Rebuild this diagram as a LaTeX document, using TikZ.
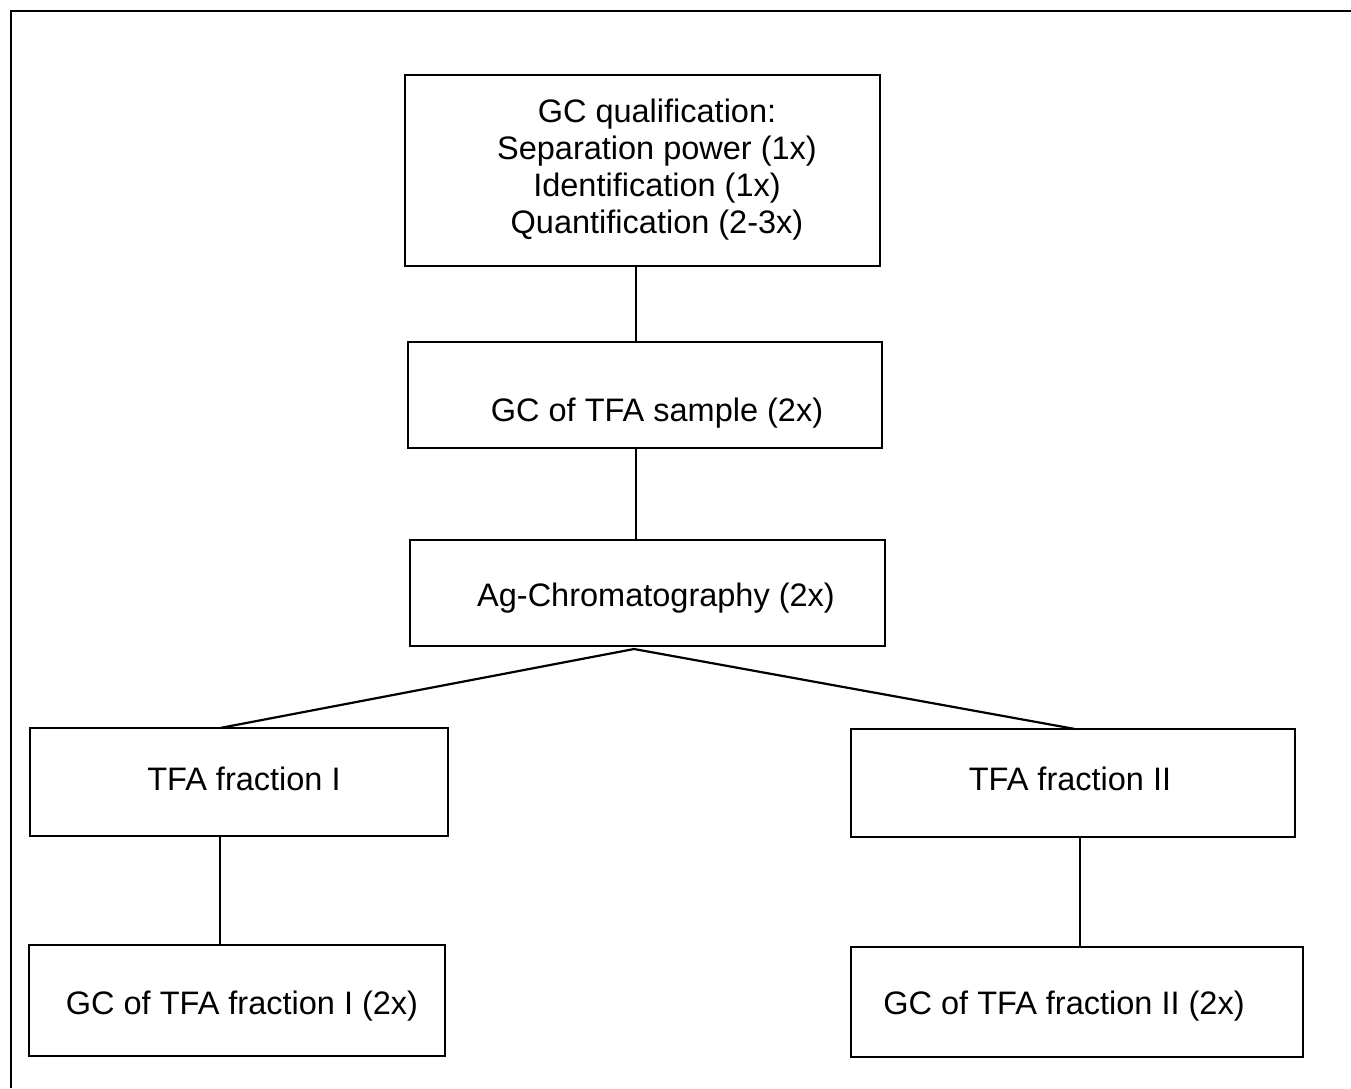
\documentclass[tikz,border=0pt]{standalone}
\usepackage{fontspec}
\setmainfont{Liberation Sans}
\begin{document}
\begin{tikzpicture}[x=1pt,y=-1pt,
  box/.style={draw=black, line width=2.5pt, inner sep=0pt, outer sep=0pt, rectangle},
  lbl/.style={inner sep=0pt, outer sep=0pt, font=\fontsize{32.5}{37}\selectfont, text=black},
  conn/.style={draw=black, line width=2.2pt}]
\useasboundingbox (0,0) rectangle (1351,1088);
% outer frame (left and top edges only)
\coordinate (ftl) at (11,11);
\coordinate (ftr) at (1351,11);
\coordinate (fbl) at (11,1088);
\draw[conn] (fbl) -- (ftl) -- (ftr);
% boxes
\node[box, minimum width=475, minimum height=191] (b1) at (642.5,170.5) {};
\node[box, minimum width=474, minimum height=106] (b2) at (645,395) {};
\node[box, minimum width=475, minimum height=106] (b3) at (647.5,593) {};
\node[box, minimum width=418, minimum height=108] (b4) at (239,782) {};
\node[box, minimum width=444, minimum height=108] (b5) at (1073,783) {};
\node[box, minimum width=416, minimum height=111] (b6) at (237,1000.5) {};
\node[box, minimum width=452, minimum height=110] (b7) at (1077,1002) {};
% texts
\node[lbl, align=center] (t1) at (657,170) {GC qualification:\\Separation power (1x)\\Identification (1x)\\Quantification (2-3x)};
\node[lbl, anchor=base] (t2) at (657,421) {GC of TFA sample (2x)};
\node[lbl, anchor=base] (t3) at (656,606) {Ag-Chromatography (2x)};
\node[lbl, anchor=base] (t4) at (244,790) {TFA fraction I};
\node[lbl, anchor=base] (t5) at (1070,790) {TFA fraction II};
\node[lbl, anchor=base] (t6) at (242,1014) {GC of TFA fraction I (2x)};
\node[lbl, anchor=base] (t7) at (1064,1014) {GC of TFA fraction II (2x)};
% connector x positions
\coordinate (xa) at (636,0);
\coordinate (xl) at (220,0);
\coordinate (xr) at (1075,0);
\coordinate (xr2) at (1080,0);
\coordinate (apex) at (634,649);
\draw[conn] (b1.south -| xa) -- (b2.north -| xa);
\draw[conn] (b2.south -| xa) -- (b3.north -| xa);
\draw[conn] (b4.north -| xl) -- (apex) -- (b5.north -| xr);
\draw[conn] (b4.south -| xl) -- (b6.north -| xl);
\draw[conn] (b5.south -| xr2) -- (b7.north -| xr2);
\end{tikzpicture}
\end{document}
